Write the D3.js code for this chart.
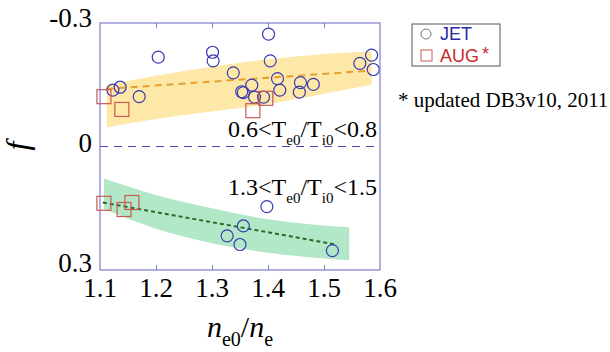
<!DOCTYPE html>
<html>
<head>
<meta charset="utf-8">
<style>
  body { margin: 0; background: #fff; }
  svg text { font-family: "Liberation Serif", "Times New Roman", serif; }
</style>
</head>
<body>
<svg id="chart" width="610" height="352"></svg>
<script src="https://d3js.org/d3.v7.min.js"></script>
<script>
// JET points (circles), upper group 0.6<Te0/Ti0<0.8
const jetLowX = [1.123, 1.136, 1.170, 1.204, 1.301, 1.302, 1.338, 1.353, 1.356, 1.371, 1.376, 1.392, 1.401, 1.404, 1.417, 1.421, 1.458, 1.456, 1.481, 1.564, 1.585, 1.588];
const jetLowF = [-0.137, -0.144, -0.121, -0.217, -0.229, -0.208, -0.179, -0.133, -0.131, -0.149, -0.120, -0.120, -0.273, -0.208, -0.165, -0.137, -0.155, -0.132, -0.151, -0.202, -0.222, -0.187];
// AUG points (squares), upper group
const augLowX = [1.107, 1.139, 1.373, 1.396];
const augLowF = [-0.121, -0.090, -0.087, -0.117];
// lower group 1.3<Te0/Ti0<1.5
const jetHighX = [1.398, 1.356, 1.327, 1.350, 1.515];
const jetHighF = [0.146, 0.193, 0.217, 0.238, 0.253];
const augHighX = [1.107, 1.143, 1.157];
const augHighF = [0.138, 0.153, 0.136];

// shaded bands and fit lines
const bandLowX = [1.112, 1.2, 1.3, 1.4, 1.5, 1.585];
const bandLowTop = [-0.150, -0.172, -0.194, -0.212, -0.225, -0.231];
const bandLowBot = [-0.047, -0.067, -0.085, -0.103, -0.128, -0.150];
const bandHighX = [1.107, 1.2, 1.3, 1.4, 1.5, 1.545];
const bandHighTop = [0.078, 0.118, 0.150, 0.177, 0.192, 0.196];
const bandHighBot = [0.152, 0.200, 0.235, 0.258, 0.272, 0.276];
const fitLowX = [1.112, 1.58];
const fitLowF = [-0.140, -0.184];
const fitHighX = [1.105, 1.52];
const fitHighF = [0.136, 0.238];

const xTicks = [1.1, 1.2, 1.3, 1.4, 1.5, 1.6];
const yTicks = [-0.3, 0, 0.3];

const svg = d3.select('#chart');
const x = d3.scaleLinear().domain([1.1, 1.6]).range([100, 380]);
const y = d3.scaleLinear().domain([-0.3, 0.3]).range([23, 270]);
const frameColor = '#7c7cd0';

function band(xs, top, bot, color) {
  const pts = xs.map((v, i) => [v, top[i], bot[i]]);
  svg.append('path').datum(pts)
    .attr('d', d3.area().x(d => x(d[0])).y0(d => y(d[1])).y1(d => y(d[2])).curve(d3.curveMonotoneX))
    .attr('fill', color);
}
band(bandLowX, bandLowTop, bandLowBot, '#fde8a8');
band(bandHighX, bandHighTop, bandHighBot, '#b2e8c8');

function fit(xs, fs, color, dash) {
  svg.append('path').datum(xs.map((v, i) => [v, fs[i]]))
    .attr('d', d3.line().x(d => x(d[0])).y(d => y(d[1])))
    .attr('fill', 'none').attr('stroke', color).attr('stroke-width', 2)
    .attr('stroke-dasharray', dash);
}
fit(fitLowX, fitLowF, '#e8a030', '7,5');
fit(fitHighX, fitHighF, '#2a6a2a', '4,3');

// zero line
svg.append('line').attr('x1', x(1.1)).attr('x2', x(1.6)).attr('y1', y(0)).attr('y2', y(0))
  .attr('stroke', '#4848b8').attr('stroke-width', 1).attr('stroke-dasharray', '8,6');

function circles(xs, fs) {
  svg.append('g').selectAll('circle').data(xs).enter().append('circle')
    .attr('cx', d => x(d)).attr('cy', (d, i) => y(fs[i])).attr('r', 6)
    .attr('fill', 'none').attr('stroke', '#3a3ab0').attr('stroke-width', 1.2);
}
function squares(xs, fs) {
  svg.append('g').selectAll('rect').data(xs).enter().append('rect')
    .attr('x', d => x(d) - 7).attr('y', (d, i) => y(fs[i]) - 7)
    .attr('width', 14).attr('height', 14)
    .attr('fill', 'none').attr('stroke', '#c85a50').attr('stroke-width', 1.2);
}
circles(jetLowX, jetLowF);
squares(augLowX, augLowF);
circles(jetHighX, jetHighF);
squares(augHighX, augHighF);

// frame and inner ticks
svg.append('rect').attr('x', 100).attr('y', 23).attr('width', 280).attr('height', 247)
  .attr('fill', 'none').attr('stroke', frameColor).attr('stroke-width', 1.2);
const inner = xTicks.slice(1, -1);
svg.append('g').attr('transform', 'translate(0,23)')
  .call(d3.axisTop(x).tickValues(inner).tickSize(-5).tickFormat(''))
  .call(g => g.select('.domain').remove())
  .call(g => g.selectAll('line').attr('stroke', frameColor));
svg.append('g').attr('transform', 'translate(0,270)')
  .call(d3.axisBottom(x).tickValues(inner).tickSize(-5).tickFormat(''))
  .call(g => g.select('.domain').remove())
  .call(g => g.selectAll('line').attr('stroke', frameColor));

// tick labels
svg.append('g').selectAll('text').data(xTicks).enter().append('text')
  .attr('x', d => x(d)).attr('y', 297).attr('text-anchor', 'middle')
  .attr('font-size', 27).text(d => d.toFixed(1));
const yLab = {'-0.3': 27, '0': 152, '0.3': 272};
svg.append('g').selectAll('text').data(yTicks).enter().append('text')
  .attr('x', 92).attr('y', d => yLab[String(d)]).attr('text-anchor', 'end')
  .attr('font-size', 27).text(d => d === 0 ? '0' : String(d));

// axis titles
const xt = svg.append('text').attr('x', 240).attr('y', 337).attr('text-anchor', 'middle').attr('font-size', 30);
xt.append('tspan').attr('font-style', 'italic').text('n');
xt.append('tspan').attr('font-size', 20).attr('dy', 9).text('e0');
xt.append('tspan').attr('dy', -9).text('/');
xt.append('tspan').attr('font-style', 'italic').text('n');
xt.append('tspan').attr('font-size', 20).attr('dy', 9).text('e');
// y title: a sideways italic f
svg.append('text').attr('x', 28).attr('y', 146).attr('text-anchor', 'middle')
  .attr('transform', 'rotate(-90 28 146)')
  .attr('font-size', 32).attr('font-style', 'italic').text('f');

// range annotations
function rangeLabel(lo, hi, yb) {
  const t = svg.append('text').attr('x', 377).attr('y', yb).attr('text-anchor', 'end').attr('font-size', 24);
  t.append('tspan').text(lo + '<T');
  t.append('tspan').attr('font-size', 15).attr('dy', 8).text('e0');
  t.append('tspan').attr('dy', -8).text('/T');
  t.append('tspan').attr('font-size', 15).attr('dy', 8).text('i0');
  t.append('tspan').attr('dy', -8).text('<' + hi);
}
rangeLabel('0.6', '0.8', 137);
rangeLabel('1.3', '1.5', 195);

// legend
const lg = svg.append('g');
lg.append('rect').attr('x', 412).attr('y', 24).attr('width', 88).attr('height', 42)
  .attr('fill', 'none').attr('stroke', '#555').attr('stroke-width', 1);
lg.append('circle').attr('cx', 426).attr('cy', 34).attr('r', 5).attr('fill', 'none').attr('stroke', '#777');
lg.append('rect').attr('x', 421).attr('y', 50).attr('width', 11).attr('height', 11).attr('fill', 'none').attr('stroke', '#c85a50');
lg.append('text').attr('x', 440).attr('y', 40).attr('font-size', 18)
  .style('font-family', 'Liberation Sans, Arial, sans-serif').attr('fill', '#2a2aa8').text('JET');
const aug = lg.append('text').attr('x', 440).attr('y', 62).attr('font-size', 18)
  .style('font-family', 'Liberation Sans, Arial, sans-serif').attr('fill', '#cc2a2a');
aug.append('tspan').text('AUG');
aug.append('tspan').attr('dx', 3).attr('dy', -2).text('*');

svg.append('text').attr('x', 398).attr('y', 107).attr('font-size', 21).text('* updated DB3v10, 2011');
</script>
</body>
</html>
